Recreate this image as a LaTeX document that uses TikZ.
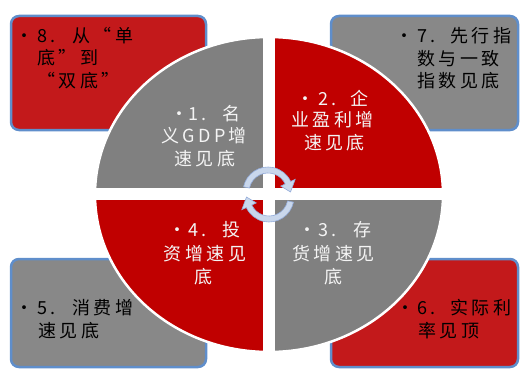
\documentclass[tikz,border=0pt]{standalone}
\usepackage{fontspec}
\newfontfamily\cjk[LetterSpace=19]{Noto Sans CJK SC}
\definecolor{qgray}{HTML}{808080}
\definecolor{bgray}{HTML}{888888}
\definecolor{qred}{HTML}{C00000}
\definecolor{bred}{HTML}{C3191B}
\definecolor{bblue}{HTML}{5F8ECB}
\definecolor{afill}{HTML}{C9D7EC}
\definecolor{aline}{HTML}{93ACDA}
\definecolor{qwhite}{HTML}{F4F4F4}
\begin{document}
\begin{tikzpicture}[x=1pt,y=-1pt,
  txt/.style={inner sep=0pt, font=\cjk\fontsize{18}{18}\selectfont},
  wtxt/.style={txt, text=qwhite},
  btxt/.style={txt, text=black},
  cbox/.style={rounded corners=8pt, draw=bblue, line width=2.5pt},
  carrow/.style={fill=afill, draw=aline, line width=0.6pt}]
\useasboundingbox (0,0) rectangle (521,369);
% corner boxes
\filldraw[cbox, fill=bred] (11,16) rectangle (206,130);
\filldraw[cbox, fill=bgray] (331,16) rectangle (518,130);
\filldraw[cbox, fill=bgray] (11,259) rectangle (206,367);
\filldraw[cbox, fill=bred] (331,259) rectangle (518,367);
% quadrants
\begin{scope}
\clip (269,194.5) ellipse [x radius=174, y radius=157.5];
\fill[qgray] (90,30) rectangle (263,188);
\fill[qred] (275,30) rectangle (450,188);
\fill[qred] (90,200) rectangle (263,360);
\fill[qgray] (275,200) rectangle (450,360);
\end{scope}
\draw[white, line width=2.5pt] (269,194.5) ellipse [x radius=174, y radius=157.5];
% circular arrows
\begin{scope}[shift={(268,192)}, yscale=-1]
\filldraw[carrow] (168:25) arc[start angle=168, end angle=25, radius=25]
  -- (25:30) -- (0:22.5) -- (25:14) -- (25:19)
  arc[start angle=25, end angle=168, radius=19] -- cycle;
\end{scope}
\begin{scope}[shift={(269,197)}, yscale=-1]
\filldraw[carrow] (-12:25) arc[start angle=-12, end angle=-155, radius=25]
  -- (-155:30) -- (-180:22.5) -- (-155:14) -- (-155:19)
  arc[start angle=-155, end angle=-12, radius=19] -- cycle;
\end{scope}
% box 8
\node[btxt, anchor=base] (b8b) at (25,42) {•};
\node[btxt, anchor=base west] (b8a) at (37,42) {\makebox[35pt][l]{8.}从“单};
\node[btxt, anchor=base west] (b8c) at (37,64.5) {底”到};
\node[btxt, anchor=base west] (b8d) at (37,87) {“双底”};
% box 7
\node[btxt, anchor=base] (b7b) at (404,43) {•};
\node[btxt, anchor=base west] (b7a) at (417,43) {\makebox[33pt][l]{7.}先行指};
\node[btxt, anchor=base west] (b7c) at (417,65) {数与一致};
\node[btxt, anchor=base west] (b7d) at (417,87) {指数见底};
% box 5
\node[btxt, anchor=base] (b5b) at (25,314) {•};
\node[btxt, anchor=base west] (b5a) at (37,314) {\makebox[35pt][l]{5.}消费增};
\node[btxt, anchor=base west] (b5c) at (38,337) {速见底};
% box 6
\node[btxt, anchor=base] (b6b) at (405,314) {•};
\node[btxt, anchor=base west] (b6a) at (417,314) {\makebox[33pt][l]{6.}实际利};
\node[btxt, anchor=base west] (b6c) at (418,337) {率见顶};
% quadrant 1
\node[wtxt, anchor=base] (q1b) at (179.5,120) {•};
\node[wtxt, anchor=base west] (q1a) at (188,120) {\makebox[34pt][l]{1.}名};
\node[wtxt, anchor=base] (q1c) at (204,142.5) {义GDP增};
\node[wtxt, anchor=base] (q1d) at (205,165) {速见底};
% quadrant 2
\node[wtxt, anchor=base] (q2b) at (305,105.5) {•};
\node[wtxt, anchor=base west] (q2a) at (318,105.5) {\makebox[32pt][l]{2.}企};
\node[wtxt, anchor=base] (q2c) at (332.5,126.5) {业盈利增};
\node[wtxt, anchor=base] (q2d) at (334.5,149.5) {速见底};
% quadrant 3
\node[wtxt, anchor=base] (q3b) at (307,236.5) {•};
\node[wtxt, anchor=base west] (q3a) at (318,236.5) {\makebox[35pt][l]{3.}存};
\node[wtxt, anchor=base] (q3c) at (333.5,260) {货增速见};
\node[wtxt, anchor=base] (q3d) at (333,283.5) {底};
% quadrant 4
\node[wtxt, anchor=base] (q4b) at (177,236.5) {•};
\node[wtxt, anchor=base west] (q4a) at (188,236.5) {\makebox[34pt][l]{4.}投};
\node[wtxt, anchor=base] (q4c) at (205,260) {资增速见};
\node[wtxt, anchor=base] (q4d) at (203,283.5) {底};
\end{tikzpicture}
\end{document}
